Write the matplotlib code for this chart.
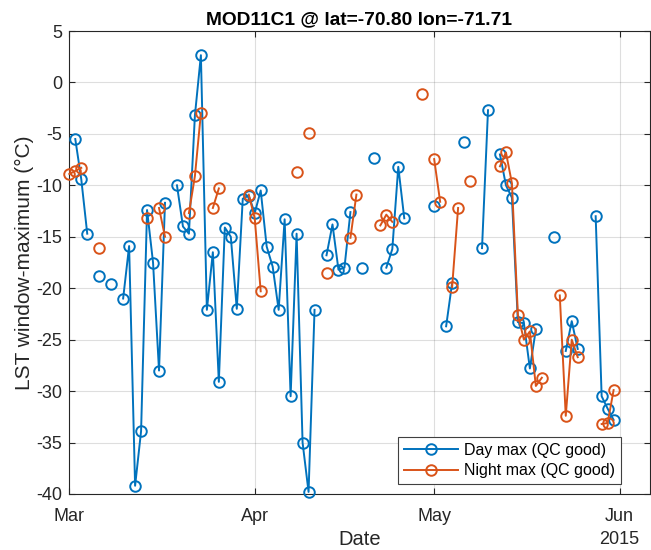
import matplotlib
matplotlib.use("Agg")
import matplotlib.pyplot as plt
import matplotlib.dates as mdates
import pandas as pd

plt.rcParams['font.family'] = ['Liberation Sans', 'DejaVu Sans']
plt.rcParams['axes.unicode_minus'] = False

# ---- data ----
day_dates = ["03-02", "03-03", "03-04", "03-06", "03-08", "03-10", "03-11", "03-12",
             "03-13", "03-14", "03-15", "03-16", "03-17", "03-19", "03-20", "03-21",
             "03-22", "03-23", "03-24", "03-25", "03-26", "03-27", "03-28", "03-29",
             "03-30", "03-31", "04-01", "04-02", "04-03", "04-04", "04-05", "04-06",
             "04-07", "04-08", "04-09", "04-10", "04-11", "04-13", "04-14", "04-15",
             "04-16", "04-17", "04-19", "04-21", "04-23", "04-24", "04-25", "04-26",
             "05-01", "05-03", "05-04", "05-06", "05-09", "05-10", "05-12", "05-13",
             "05-14", "05-15", "05-16", "05-17", "05-18", "05-21", "05-23", "05-24",
             "05-25", "05-28", "05-29", "05-30", "05-31"]
day_values = [-5.5, -9.4, -14.7, -18.8, -19.6, -21.0, -15.9, -39.2,
              -33.9, -12.4, -17.5, -28.0, -11.7, -10.0, -14.0, -14.7,
              -3.2, 2.65, -22.1, -16.5, -29.1, -14.1, -15.0, -22.0,
              -11.3, -11.0, -12.7, -10.5, -15.95, -17.9, -22.1, -13.3,
              -30.5, -14.7, -35.0, -39.8, -22.1, -16.8, -13.8, -18.2,
              -18.0, -12.6, -18.0, -7.3, -18.0, -16.2, -8.2, -13.2,
              -12.0, -23.7, -19.5, -5.8, -16.1, -2.7, -7.0, -10.0,
              -11.2, -23.3, -23.4, -27.8, -24.0, -15.0, -26.1, -23.2,
              -25.9, -13.0, -30.5, -31.7, -32.8]

night_dates = ["03-01", "03-02", "03-03", "03-06", "03-14", "03-16", "03-17", "03-21",
               "03-22", "03-23", "03-25", "03-26", "03-31", "04-01", "04-02", "04-08",
               "04-10", "04-13", "04-17", "04-18", "04-22", "04-23", "04-24", "04-29",
               "05-01", "05-02", "05-04", "05-05", "05-07", "05-12", "05-13", "05-14",
               "05-15", "05-16", "05-17", "05-18", "05-19", "05-22", "05-23", "05-24",
               "05-25", "05-29", "05-30", "05-31"]
night_values = [-8.9, -8.6, -8.3, -16.1, -13.2, -12.2, -15.0, -12.7,
                -9.1, -3.0, -12.2, -10.3, -10.9, -13.2, -20.3, -8.7,
                -4.9, -18.5, -15.1, -10.9, -13.9, -12.85, -13.55, -1.1,
                -7.45, -11.6, -19.9, -12.2, -9.6, -8.15, -6.8, -9.8,
                -22.6, -25.0, -24.2, -29.5, -28.7, -20.7, -32.4, -25.0,
                -26.7, -33.2, -33.1, -29.9]

year = 2015
x_ticks = ["2015-03-01", "2015-04-01", "2015-05-01", "2015-06-01"]
y_ticks = [-40, -35, -30, -25, -20, -15, -10, -5, 0, 5]

# ---- build daily series (gaps -> NaN break the lines) ----
full = pd.date_range(f"{year}-03-01", f"{year}-05-31", freq="D")
day = pd.Series(day_values, index=pd.to_datetime([f"{year}-{d}" for d in day_dates])).reindex(full)
night = pd.Series(night_values, index=pd.to_datetime([f"{year}-{d}" for d in night_dates])).reindex(full)

W, H = 651, 550
fig = plt.figure(figsize=(W / 100, H / 100), dpi=100)
left, right, top, bottom = 69.3, 649.5, 31, 494
ax = fig.add_axes([left / W, (H - bottom) / H, (right - left) / W, (bottom - top) / H])

blue = "#0072BD"
orange = "#D95319"
dark = "#262626"

ax.plot(day.index, day.values, color=blue, lw=1.4, marker="o", ms=7.6,
        mfc="none", mec=blue, mew=1.4, label="Day max (QC good)", clip_on=False, zorder=3)
ax.plot(night.index, night.values, color=orange, lw=1.4, marker="o", ms=7.6,
        mfc="none", mec=orange, mew=1.4, label="Night max (QC good)", clip_on=False, zorder=4)

ax.set_xlim(pd.Timestamp(f"{year}-03-01"), pd.Timestamp(f"{year}-06-06"))
ax.set_ylim(-40, 5)
ax.set_xticks(pd.to_datetime(x_ticks))
ax.xaxis.set_major_formatter(mdates.DateFormatter("%b"))
ax.set_yticks(y_ticks)

ax.grid(True, color=(0.15, 0.15, 0.15), alpha=0.15, lw=0.8)
ax.set_axisbelow(True)
for s in ax.spines.values():
    s.set_color(dark)
    s.set_linewidth(0.8)
ax.tick_params(direction="in", top=True, right=True, length=4, width=0.8,
               colors=dark, labelsize=13)
ax.tick_params(axis="x", pad=10)
ax.tick_params(axis="y", pad=5)

ax.set_title(f"MOD11C1 @ lat=-70.80 lon=-71.71", fontsize=13.8, fontweight="bold",
             color="black", pad=5)
ax.set_xlabel("Date", fontsize=14.5, color=dark, labelpad=4)
ax.set_ylabel("LST window-maximum (°C)", fontsize=15, color=dark, labelpad=2)

fig.text(639 / W, (H - 540) / H, str(year), ha="right", va="center",
         fontsize=13, color=dark)

leg = ax.legend(loc="lower right", bbox_to_anchor=((621 - left) / (right - left), (bottom - 484) / (bottom - top)),
                borderaxespad=0, fancybox=False, framealpha=1, edgecolor="#404040",
                fontsize=11.5, handlelength=3.4, handletextpad=0.4, borderpad=0.35,
                labelspacing=0.35)
leg.get_frame().set_linewidth(0.8)

fig.savefig("out.png", dpi=100)
